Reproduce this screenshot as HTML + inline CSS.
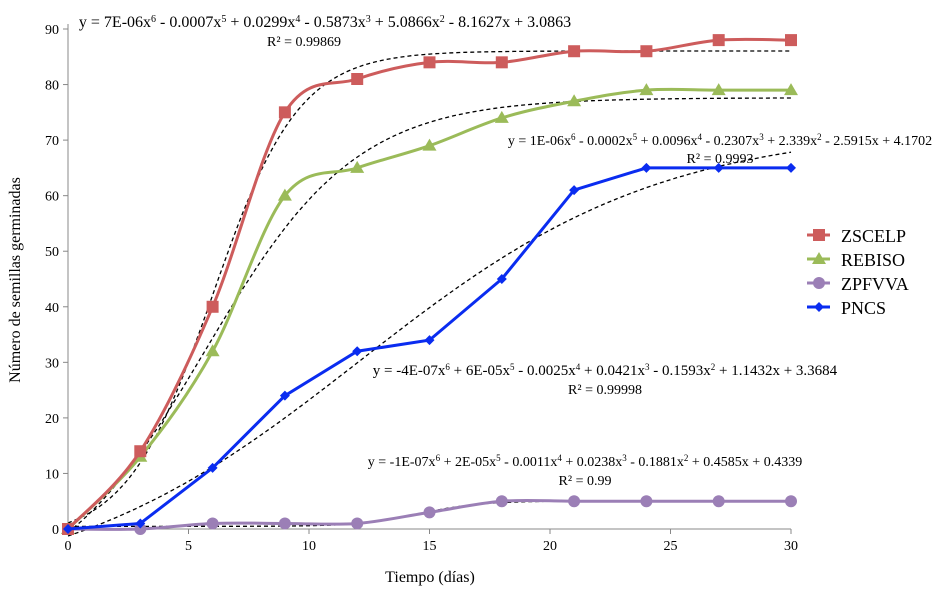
<!DOCTYPE html>
<html><head><meta charset="utf-8"><style>
body{margin:0;background:#fff}
svg{font-family:"Liberation Serif",serif}
</style></head><body>
<svg id="chart" width="944" height="588" viewBox="0 0 944 588" xmlns="http://www.w3.org/2000/svg">
<g id="axes"></g>
<g id="trends"></g>
<g id="series"></g>
<g font-size="14" fill="#000" text-anchor="middle">
<text x="325" y="27" font-size="16">y = 7E-06x<tspan font-size="10" dy="-5">6</tspan><tspan dy="5"> - 0.0007x</tspan><tspan font-size="10" dy="-5">5</tspan><tspan dy="5"> + 0.0299x</tspan><tspan font-size="10" dy="-5">4</tspan><tspan dy="5"> - 0.5873x</tspan><tspan font-size="10" dy="-5">3</tspan><tspan dy="5"> + 5.0866x</tspan><tspan font-size="10" dy="-5">2</tspan><tspan dy="5"> - 8.1627x + 3.0863</tspan></text>
<text x="304" y="46">R² = 0.99869</text>
<text x="720" y="145">y = 1E-06x<tspan font-size="9" dy="-5">6</tspan><tspan dy="5"> - 0.0002x</tspan><tspan font-size="9" dy="-5">5</tspan><tspan dy="5"> + 0.0096x</tspan><tspan font-size="9" dy="-5">4</tspan><tspan dy="5"> - 0.2307x</tspan><tspan font-size="9" dy="-5">3</tspan><tspan dy="5"> + 2.339x</tspan><tspan font-size="9" dy="-5">2</tspan><tspan dy="5"> - 2.5915x + 4.1702</tspan></text>
<text x="720" y="163">R² = 0.9993</text>
<text x="605" y="375" font-size="15">y = -4E-07x<tspan font-size="9" dy="-5">6</tspan><tspan dy="5"> + 6E-05x</tspan><tspan font-size="9" dy="-5">5</tspan><tspan dy="5"> - 0.0025x</tspan><tspan font-size="9" dy="-5">4</tspan><tspan dy="5"> + 0.0421x</tspan><tspan font-size="9" dy="-5">3</tspan><tspan dy="5"> - 0.1593x</tspan><tspan font-size="9" dy="-5">2</tspan><tspan dy="5"> + 1.1432x + 3.3684</tspan></text>
<text x="605" y="394">R² = 0.99998</text>
<text x="585" y="466">y = -1E-07x<tspan font-size="9" dy="-5">6</tspan><tspan dy="5"> + 2E-05x</tspan><tspan font-size="9" dy="-5">5</tspan><tspan dy="5"> - 0.0011x</tspan><tspan font-size="9" dy="-5">4</tspan><tspan dy="5"> + 0.0238x</tspan><tspan font-size="9" dy="-5">3</tspan><tspan dy="5"> - 0.1881x</tspan><tspan font-size="9" dy="-5">2</tspan><tspan dy="5"> + 0.4585x + 0.4339</tspan></text>
<text x="585" y="485">R² = 0.99</text>
</g>
<text x="430" y="582" font-size="16" text-anchor="middle">Tiempo (días)</text>
<text transform="translate(20,280) rotate(-90)" font-size="16" text-anchor="middle">Número de semillas germinadas</text>
<g id="legend"></g>
</svg>
<script>
const xValues=[0,3,6,9,12,15,18,21,24,27,30];
const zscelp=[0,14,40,75,81,84,84,86,86,88,88];
const rebiso=[0,13,32,60,65,69,74,77,79,79,79];
const zpfvva=[0,0,1,1,1,3,5,5,5,5,5];
const pncs=[0,1,11,24,32,34,45,61,65,65,65];
const xTicks=[0,5,10,15,20,25,30];
const yTicks=[0,10,20,30,40,50,60,70,80,90];
const seriesNames=["ZSCELP","REBISO","ZPFVVA","PNCS"];

const NS="http://www.w3.org/2000/svg";
const X0=68,X1=791,Y0=529,Y1=29;
const sx=v=>X0+(v-0)/(30-0)*(X1-X0);
const sy=v=>Y0-(v-0)/(90-0)*(Y0-Y1);
function mk(tag,attrs,parent){const e=document.createElementNS(NS,tag);for(const k in attrs)e.setAttribute(k,attrs[k]);parent.appendChild(e);return e;}

const axes=document.getElementById('axes');
let l=mk('line',{x1:X0,y1:Y1-5,x2:X0,y2:Y0,stroke:'#888','stroke-width':1},axes);


l=mk('line',{x1:X0,y1:Y0,x2:X1,y2:Y0,stroke:'#888','stroke-width':1},axes);


yTicks.forEach(v=>{
  mk('line',{x1:X0-5,y1:sy(v),x2:X0,y2:sy(v),stroke:'#888'},axes);
  const t=mk('text',{x:X0-9,y:sy(v)+5,'font-size':14,'text-anchor':'end'},axes);t.textContent=v;
  
  
});
xTicks.forEach(v=>{
  mk('line',{x1:sx(v),y1:Y0,x2:sx(v),y2:Y0+5,stroke:'#888'},axes);
  const t=mk('text',{x:sx(v),y:Y0+21,'font-size':14,'text-anchor':'middle'},axes);t.textContent=v;
  
  
});

// logistic trend fit: y = a + (K-a)*s(x), grid search over r,m; a,K by linear least squares
function fitLogistic(ys){
  let best=null;
  for(let r=0.05;r<=1.5;r+=0.01){for(let m=0;m<=30;m+=0.1){
    const s=xValues.map(x=>1/(1+Math.exp(-r*(x-m))));
    let S11=0,S12=0,S22=0,B1=0,B2=0;
    s.forEach((v,i)=>{const u=1-v;S11+=u*u;S12+=u*v;S22+=v*v;B1+=u*ys[i];B2+=v*ys[i];});
    const det=S11*S22-S12*S12;if(Math.abs(det)<1e-9)continue;
    const a=(B1*S22-B2*S12)/det,K=(S11*B2-S12*B1)/det;
    let e=0;s.forEach((v,i)=>{const d=a+(K-a)*v-ys[i];e+=d*d;});
    if(!best||e<best.e)best={e,a,K,r,m};
  }}
  return best;
}
const trends=document.getElementById('trends');
[zscelp,rebiso,zpfvva,pncs].forEach((ys,si)=>{
  const f=fitLogistic(ys);let d='';
  for(let x=0;x<=30.001;x+=0.25){const y=f.a+(f.K-f.a)/(1+Math.exp(-f.r*(x-f.m)));d+=(d?'L':'M')+sx(x).toFixed(1)+','+sy(y).toFixed(1);}
  const p=mk('path',{d:d,fill:'none',stroke:'#000','stroke-width':1.3,'stroke-dasharray':'4,3'},trends);
  
  
});

function smooth(ys){
  const pts=xValues.map((x,i)=>[sx(x),sy(ys[i])]);let d='M'+pts[0][0]+','+pts[0][1];
  for(let i=0;i<pts.length-1;i++){const p0=pts[i-1]||pts[i],p1=pts[i],p2=pts[i+1],p3=pts[i+2]||p2;
    d+='C'+(p1[0]+(p2[0]-p0[0])/6)+','+(p1[1]+(p2[1]-p0[1])/6)+' '+(p2[0]-(p3[0]-p1[0])/6)+','+(p2[1]-(p3[1]-p1[1])/6)+' '+p2[0]+','+p2[1];}
  return d;
}
function straight(ys){return xValues.map((x,i)=>(i?'L':'M')+sx(x)+','+sy(ys[i])).join('');}
function marker(type,x,y,col,g){
  let m;
  if(type==='square')m=mk('rect',{x:x-6,y:y-6,width:12,height:12,fill:col},g);
  else if(type==='tri')m=mk('path',{d:`M${x},${y-7}L${x+7},${y+5}L${x-7},${y+5}Z`,fill:col},g);
  else if(type==='circle')m=mk('circle',{cx:x,cy:y,r:6,fill:col},g);
  else m=mk('path',{d:`M${x},${y-5}L${x+5},${y}L${x},${y+5}L${x-5},${y}Z`,fill:col},g);
  return m;
}
const seriesG=document.getElementById('series');
const defs=[[zpfvva,'#9b7fb6','circle',true],[rebiso,'#9bbb59','tri',true],[zscelp,'#cd5c5c','square',true],[pncs,'#0a2cf0','diamond',false]];
const nameMap=['zpfvva','rebiso','zscelp','pncs'];
defs.forEach((s,si)=>{
  const g=mk('g',{},seriesG);
  
  
  const p=mk('path',{d:s[3]?smooth(s[0]):straight(s[0]),fill:'none',stroke:s[1],'stroke-width':3},g);
  
  
  s[0].forEach((v,i)=>{const m=marker(s[2],sx(xValues[i]),sy(v),s[1],g);
    
    });
});
const leg=document.getElementById('legend');
const legDefs=[['#cd5c5c','square'],['#9bbb59','tri'],['#9b7fb6','circle'],['#0a2cf0','diamond']];
seriesNames.forEach((n,i)=>{
  const y=235+i*24;const g=mk('g',{},leg);
  
  
  mk('line',{x1:807,y1:y,x2:830,y2:y,stroke:legDefs[i][0],'stroke-width':3},g);
  marker(legDefs[i][1],819,y,legDefs[i][0],g);
  const t=mk('text',{x:841,y:y+7,'font-size':18},g);t.textContent=n;
});
</script>
</body></html>
